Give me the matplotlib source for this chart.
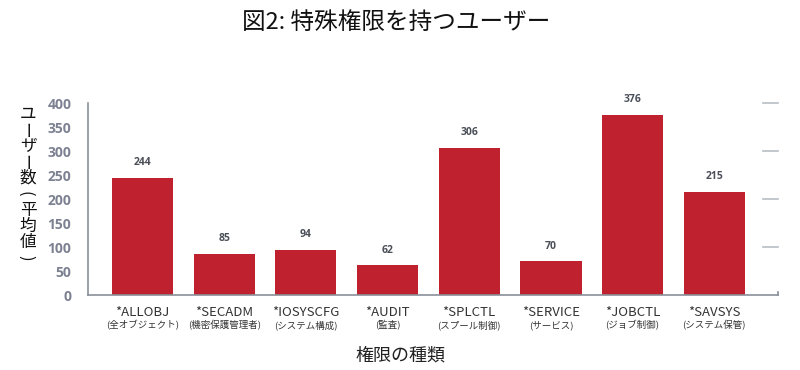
import matplotlib
matplotlib.use("Agg")
import matplotlib.pyplot as plt

plt.rcParams['font.family'] = ['Noto Sans CJK JP', 'DejaVu Sans']

codes = ["*ALLOBJ", "*SECADM", "*IOSYSCFG", "*AUDIT", "*SPLCTL", "*SERVICE", "*JOBCTL", "*SAVSYS"]
names = ["(全オブジェクト)", "(機密保護管理者)", "(システム構成)", "(監査)", "(スプール制御)", "(サービス)", "(ジョブ制御)", "(システム保管)"]
values = [244, 85, 94, 62, 306, 70, 376, 215]
yticks = [0, 50, 100, 150, 200, 250, 300, 350, 400]
right_marks = [100, 200, 300, 400]

title = "図2: 特殊権限を持つユーザー"
xlabel = "権限の種類"
ylabel_chars = ["ユ", "ー", "ザ", "ー", "数", "(", "平", "均", "値", ")"]
rotate_chars = {"ー", "(", ")"}

bar_color = "#C0212F"
spine_color = "#8a9099"

fig = plt.figure(figsize=(8, 3.7), dpi=100)
ax = fig.add_axes([0.11, 0.2027, 0.8625, 0.5189])

x = list(range(len(values)))
ax.bar(x, values, width=0.75, color=bar_color, zorder=2)
ax.set_xlim(-0.667, 7.78)
ax.set_ylim(0, 400)

for xi, v in zip(x, values):
    ax.annotate(str(v), (xi, v), xytext=(0, 7), textcoords="offset points",
                ha="center", va="bottom", fontsize=7.5, fontweight="bold",
                color="#4a4f58", family=["Open Sans", "DejaVu Sans"])

for s in ["top", "right"]:
    ax.spines[s].set_visible(False)
for s in ["left", "bottom"]:
    ax.spines[s].set_color(spine_color)
    ax.spines[s].set_linewidth(1.2)

ax.set_yticks(yticks)
ax.set_yticklabels([str(t) for t in yticks], fontsize=10, fontweight="bold",
                   color="#7d8292", family=["Open Sans", "DejaVu Sans"])
ax.tick_params(axis="y", length=0, pad=12)

ax.set_xticks(x)
ax.set_xticklabels(codes, fontsize=9.5, color="#333333")
ax.tick_params(axis="x", length=0, pad=8)
for xi, n in zip(x, names):
    ax.annotate(n, (xi, 0), xytext=(0, -18), textcoords="offset points",
                ha="center", va="top", fontsize=6.8, color="#333333",
                annotation_clip=False)

# short grey marks on the right
for r in right_marks:
    ax.plot([0.978, 1.0], [r, r], transform=ax.get_yaxis_transform(),
            color="#b8bdc4", lw=1.2, clip_on=False)
# small tick at right end of bottom axis
ax.plot([1.0, 1.0], [0, 6], transform=ax.get_yaxis_transform(),
        color=spine_color, lw=1.2, clip_on=False)

fig.text(0.495, 0.94, title, ha="center", va="center", fontsize=17, color="#111111")
fig.text(0.5, 0.04, xlabel, ha="center", va="center", fontsize=13, color="#222222")

# vertical y label, one character at a time
y0 = 1 - 114 / 370
step = 16 / 370
xc = 28 / 800
for i, ch in enumerate(ylabel_chars):
    if ch in rotate_chars:
        fig.text(xc - 2.5 / 800, y0 - i * step, ch, ha="center", va="center",
                 fontsize=12, color="#111111", rotation=-90)
    else:
        fig.text(xc, y0 - i * step, ch, ha="center", va="center",
                 fontsize=12, color="#111111")

fig.savefig("out.png", dpi=100)
